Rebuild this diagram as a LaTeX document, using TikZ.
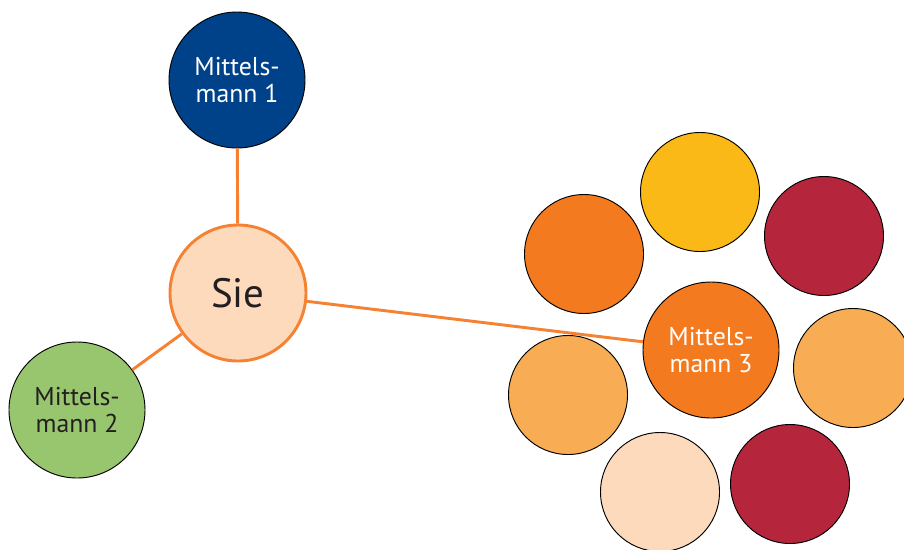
\documentclass[tikz,border=0pt]{standalone}
\usepackage{fontspec}
\setmainfont{PT Sans}
\usepackage{tikz}
\usetikzlibrary{positioning}
\definecolor{mblue}{HTML}{00428A}
\definecolor{mgreen}{HTML}{98C66E}
\definecolor{morange}{HTML}{F47A20}
\definecolor{mline}{HTML}{F58233}
\definecolor{mpeach}{HTML}{FDDABB}
\definecolor{myellow}{HTML}{FBB917}
\definecolor{mred}{HTML}{B5253C}
\definecolor{mlight}{HTML}{F8AD55}
\definecolor{mtext}{HTML}{231F20}

\begin{document}
\begin{tikzpicture}[
        x=0.03cm, y=-0.03cm,
        person/.style={circle, draw=black, line width=0.8pt, fill=#1,
        minimum size=4.08cm, inner sep=0pt, align=center,
        font=\fontsize{22}{23.8}\selectfont},
        contact/.style={circle, draw=black, line width=0.8pt, fill=#1,
        minimum size=3.57cm, inner sep=0pt},
        link/.style={mline, line width=2.5pt},
      ]
      \clip (0, 0) rectangle (904, 549);

      % Sie und die Mittelsmaenner
      \node[person=mblue, text=white] (mm1) at (237, 80) {Mittels-\\mann 1};
      \node[person=mgreen, text=mtext] (mm2) at (77, 410) {Mittels-\\mann 2};
      \node[person=morange, text=white] (mm3) at (711, 350) {Mittels-\\mann 3};
      \node[person=mpeach, draw=mline, line width=2.5pt, text=mtext,
      font=\fontsize{35}{40}\selectfont] (sie) at (238, 293) {Sie};

      % Kontakte von Mittelsmann 3
      \node[contact=myellow] (k1) at (700, 192) {};
      \node[contact=mred] (k2) at (824, 236) {};
      \node[contact=morange] (k3) at (584, 254) {};
      \node[contact=mlight] (k4) at (853, 368) {};
      \node[contact=mlight] (k5) at (568, 395) {};
      \node[contact=mpeach] (k6) at (660, 492) {};
      \node[contact=mred] (k7) at (790, 484) {};

      \draw[link] (mm1) -- (sie);
      \draw[link] (sie) -- (mm2);
      \draw[link] (sie) -- (mm3);
    \end{tikzpicture}
\end{document}
